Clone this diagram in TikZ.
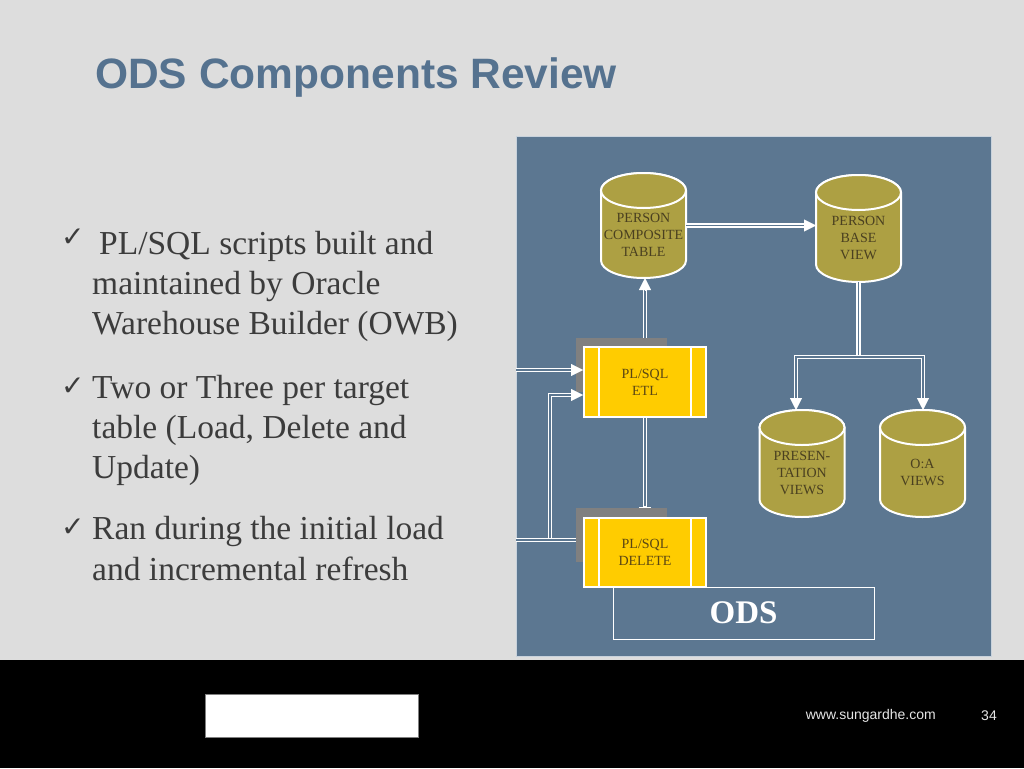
\documentclass[tikz,border=0pt]{standalone}
\usepackage{fontspec}
\setmainfont{Liberation Serif}
\newfontfamily\sansf{Liberation Sans}
\newfontfamily\symf{DejaVu Sans}
\usetikzlibrary{arrows.meta,calc}
\definecolor{slidebg}{RGB}{221,221,221}
\definecolor{panel}{RGB}{92,119,145}
\definecolor{paneledge}{RGB}{200,210,220}
\definecolor{titleblue}{RGB}{85,114,143}
\definecolor{bodytext}{RGB}{60,60,60}
\definecolor{olive}{RGB}{173,160,67}
\definecolor{cyltxt}{RGB}{74,64,32}
\definecolor{procyellow}{RGB}{255,204,0}
\definecolor{proctxt}{RGB}{90,70,20}
\definecolor{shadowgray}{RGB}{128,128,128}
\definecolor{foottext}{RGB}{230,230,230}
\tikzset{
  conn/.style={draw=white, line width=1.2pt, double=panel, double distance=1.8pt},
  headw/.style={draw=white, fill=white, line width=0.4pt, -{Triangle[length=12pt,width=12pt]}},
  headbar/.style={draw=white, line width=1.5pt, -{Bar[width=12pt]}},
  cylbox/.style={rectangle, minimum width=85pt, inner sep=0pt, outer sep=0pt},
  cylshape/.style={fill=olive, draw=white, line width=2pt},
  cyltext/.style={font=\fontsize{14}{17}\selectfont, text=cyltxt, align=center, inner sep=0pt},
  proc/.style={rectangle, fill=procyellow, draw=white, line width=2pt, minimum width=122pt, inner sep=0pt, font=\fontsize{14}{17}\selectfont, text=proctxt, align=center},
  shadowbox/.style={rectangle, fill=shadowgray, minimum width=91pt, minimum height=54pt, inner sep=0pt, outer sep=0pt},
  procbar/.style={draw=white, line width=1.8pt},
  bullettext/.style={anchor=base west, inner sep=0pt, font=\fontsize{33.5}{40}\selectfont, text=bodytext},
  checkmk/.style={anchor=base west, inner sep=0pt, font=\symf\fontsize{28}{32}\selectfont, text=bodytext},
  foot/.style={inner sep=0pt, font=\sansf\fontsize{14}{16}\selectfont, text=foottext},
}
% name, cx, cy, height, text
\newcommand\dbcyl[5]{%
  \node[cylbox, minimum height=#4pt] (#1) at (#2,#3) {};
  \draw[cylshape] ([yshift=-17.5pt]#1.north west) -- ([yshift=17.5pt]#1.south west)
     arc[start angle=180, end angle=360, x radius=42.5pt, y radius=17.5pt]
     -- ([yshift=-17.5pt]#1.north east)
     arc[start angle=0, end angle=180, x radius=42.5pt, y radius=17.5pt] -- cycle;
  \draw[cylshape] ([yshift=-17.5pt]#1.north) ellipse[x radius=42.5pt, y radius=17.5pt];
  \node[cyltext] (#1t) at ([yshift=-9pt]#1.center) {#5};
}
\newcommand\procbars[1]{%
  \draw[procbar] ([xshift=16pt]#1.north west) -- ([xshift=16pt]#1.south west);
  \draw[procbar] ([xshift=-16pt]#1.north east) -- ([xshift=-16pt]#1.south east);
}
\begin{document}
\begin{tikzpicture}[x=1pt, y=-1pt]
\useasboundingbox (0,0) rectangle (1024,768);
\fill[slidebg] (0,0) rectangle (1024,768);

% title
\node[anchor=base west, inner sep=0pt, text=titleblue, font=\sansf\bfseries\fontsize{42.5}{50}\selectfont] (title) at (95,88) {ODS Components Review};

% bullets
\node[checkmk] (ck1) at (61,246) {✓};
\node[bullettext] (b1a) at (99,254) {PL/SQL scripts built and};
\node[bullettext] (b1b) at (92,294) {maintained by Oracle};
\node[bullettext] (b1c) at (92,334) {Warehouse Builder (OWB)};
\node[checkmk] (ck2) at (61,395) {✓};
\node[bullettext] (b2a) at (92,398) {Two or Three per target};
\node[bullettext] (b2b) at (92,438) {table (Load, Delete and};
\node[bullettext] (b2c) at (92,478) {Update)};
\node[checkmk] (ck3) at (61,536) {✓};
\node[bullettext] (b3a) at (92,539) {Ran during the initial load};
\node[bullettext] (b3b) at (92,580) {and incremental refresh};

% panel
\filldraw[fill=panel, draw=paneledge, line width=1pt] (516,136) rectangle (991,656);

% cylinders
\dbcyl{pct}{643.5}{225.5}{105}{PERSON\\COMPOSITE\\TABLE}
\dbcyl{pbv}{858.5}{228.5}{107}{PERSON\\BASE\\VIEW}
\dbcyl{pv}{802}{463.5}{107}{PRESEN-\\TATION\\VIEWS}
\dbcyl{oa}{922.5}{463.5}{107}{O:A\\VIEWS}

% ODS label box
\node[draw=white, line width=0.8pt, minimum width=261pt, minimum height=52pt, inner sep=0pt, text=white, font=\bfseries\fontsize{33}{36}\selectfont] (ods) at (743.5,613) {ODS};

% process boxes with shadows
\node[shadowbox] (etlsh) at (621.5,365) {};
\node[proc, minimum height=70pt] (etl) at (645,382) {PL/SQL\\ETL};
\procbars{etl}
\node[shadowbox] (delsh) at (621.5,535) {};
\node[proc, minimum height=69pt] (del) at (645,552.5) {PL/SQL\\DELETE};
\procbars{del}

% coordinates
\coordinate (in1) at (516,370);
\coordinate (in2) at (516,540);
\coordinate (jv) at (550,540);
\coordinate (jb) at (858.5,357);

% composite -> base view
\draw[conn, shorten >=6pt] (pct.east) -- (pbv.west |- pct.east);
\draw[headw] ([xshift=-12pt]pbv.west |- pct.east) -- (pbv.west |- pct.east);

% ETL -> composite
\draw[conn, shorten >=6pt] (etl.north |- etlsh.north) -- (etl.north |- pct.south);
\draw[headw] ([yshift=-12pt]etl.north |- pct.south) -- (etl.north |- pct.south);

% base view -> presentation / O:A
\draw[conn] (pbv.south) -- (jb);
\draw[conn, shorten <=6pt, shorten >=6pt] ([xshift=-6pt]pv.north) |- (jb) -| ([xshift=0.5pt]oa.north);
\draw[headw] ([xshift=-6pt,yshift=12pt]pv.north) -- ([xshift=-6pt]pv.north);
\draw[headw] ([xshift=0.5pt,yshift=12pt]oa.north) -- ([xshift=0.5pt]oa.north);

% ETL -> DELETE
\draw[conn, shorten >=1pt] (etl.south) -- (etl.south |- delsh.north);
\draw[headbar] ([yshift=2pt]etl.south |- delsh.north) -- (etl.south |- delsh.north);

% inputs from left
\draw[conn, shorten >=6pt] (in1) -- (in1 -| etl.west);
\draw[headw] ([xshift=-12pt]in1 -| etl.west) -- (in1 -| etl.west);
\draw[conn, shorten >=6pt] (jv) |- ([yshift=-13pt]etl.west);
\draw[headw] ([xshift=-12pt,yshift=-13pt]etl.west) -- ([yshift=-13pt]etl.west);
\draw[conn] (in2) -- (in2 -| delsh.west);

% footer
\fill[black] (0,660) rectangle (1024,768);
\filldraw[fill=white, draw=gray, line width=0.6pt] (205,694) rectangle (418,737);
\node[foot, anchor=east] (fturl) at (936,716) {www.sungardhe.com};
\node[foot] (fpage) at (989,716) {34};
\end{tikzpicture}
\end{document}
